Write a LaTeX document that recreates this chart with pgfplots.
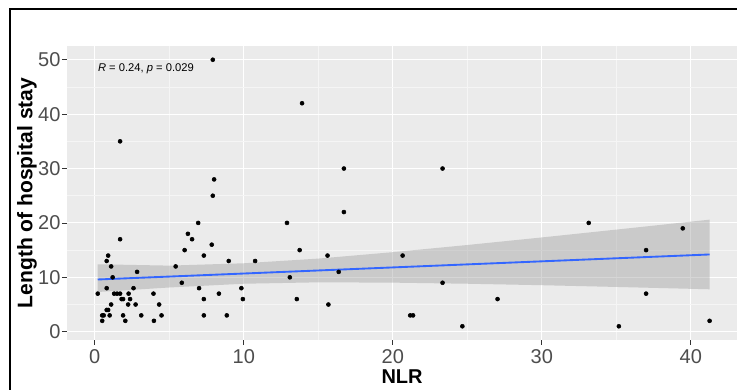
\documentclass[border=0pt]{standalone}
\usepackage{pgfplots}
\pgfplotsset{compat=1.18}
\usepackage{fontspec}
\setmainfont{Liberation Sans}
\definecolor{panelgray}{HTML}{EBEBEB}
\definecolor{gray60}{HTML}{999999}
\definecolor{gray30}{HTML}{4D4D4D}
\definecolor{gray20}{HTML}{333333}
\definecolor{minorgrid}{HTML}{F5F5F5}
\definecolor{smoothblue}{HTML}{3366FF}
\begin{document}
\begin{tikzpicture}[x=1pt,y=1pt]
\path[use as bounding box] (0,0) rectangle (552.75,291.75);
\draw[line width=1.4pt, black] (7.8,-5) -- (7.8,285) -- (560,285);
\begin{axis}[
  at={(50.4pt,37.05pt)}, anchor=south west,
  scale only axis, width=502.35pt, height=219.9pt,
  xmin=-1.85, xmax=43.1, ymin=-1.45, ymax=52.45,
  axis background/.style={fill=panelgray},
  axis line style={draw=none},
  xtick={0,10,20,30,40}, ytick={0,10,20,30,40,50},
  minor xtick={5,15,25,35}, minor ytick={5,15,25,35,45},
  grid=both,
  major grid style={white, line width=0.8pt},
  minor grid style={minorgrid, line width=0.4pt},
  tick pos=left, tick align=outside,
  major tick length=4pt, minor tick length=0pt,
  tick style={gray20, line width=0.6pt},
  /pgf/number format/assume math mode=true,
  tick label style={font=\fontsize{15}{18}\selectfont, text=gray30},
  yticklabel style={xshift=2.5pt},
  xlabel={NLR},
  ylabel={Length of hospital stay},
  xlabel style={font=\bfseries\fontsize{15}{18}\selectfont, at={(axis description cs:0.5,-0.1276)}, anchor=center},
  ylabel style={font=\bfseries\fontsize{15.8}{18}\selectfont, at={(axis description cs:-0.060,0.5)}, anchor=center},
  clip=false,
]
\addplot[only marks, mark=*, mark size=1.5pt, black] table {
x y
0.2 7
0.5 2
0.5 3
0.6 3
0.8 13
0.9 14
0.8 8
0.8 4
0.9 4
1.1 12
1.2 10
1.1 5
1.0 3
1.3 7
1.5 7
1.7 7
1.7 35
1.7 17
1.8 6
1.9 6
1.9 3
2.05 2
2.27 7
2.37 6
2.24 5
2.6 8
2.74 5
2.84 11
3.12 3
3.94 7
3.97 2
4.32 5
4.48 3
5.43 12
5.84 9
6.03 15
6.25 18
6.53 17
6.94 20
7.0 8
7.32 14
7.32 6
7.32 3
7.85 16
7.92 25
8.01 28
7.92 50
8.33 7
8.86 3
8.99 13
9.84 8
9.94 6
10.76 13
12.9 20
13.09 10
13.56 6
13.75 15
13.91 42
15.62 14
15.68 5
16.37 11
16.72 30
16.72 22
20.66 14
21.17 3
21.36 3
23.34 30
23.34 9
24.67 1
27.03 6
33.15 20
35.17 1
37.0 15
37.0 7
39.46 19
41.26 2
};
\addplot[fill=gray60, fill opacity=0.4, draw=none] coordinates {
(0.2,12.4) (5,12.15) (10,12.58) (15,13.44) (20,14.62) (25,15.94) (30,17.33) (35,18.77) (41.26,20.6)
(41.26,7.8) (35,8.23) (30,8.55) (25,8.82) (20,9.02) (15,9.08) (10,8.82) (5,8.13) (0.2,7.3)
} -- cycle;
\addplot[smoothblue, line width=1.4pt] coordinates {(0.2,9.6) (41.26,14.2)};
\node[anchor=west, font=\fontsize{8.4}{10}\selectfont, inner sep=0pt] at (axis cs:0.2,48.3) {\textit{R} = 0.24, \textit{p} = 0.029};
\end{axis}
\end{tikzpicture}
\end{document}
